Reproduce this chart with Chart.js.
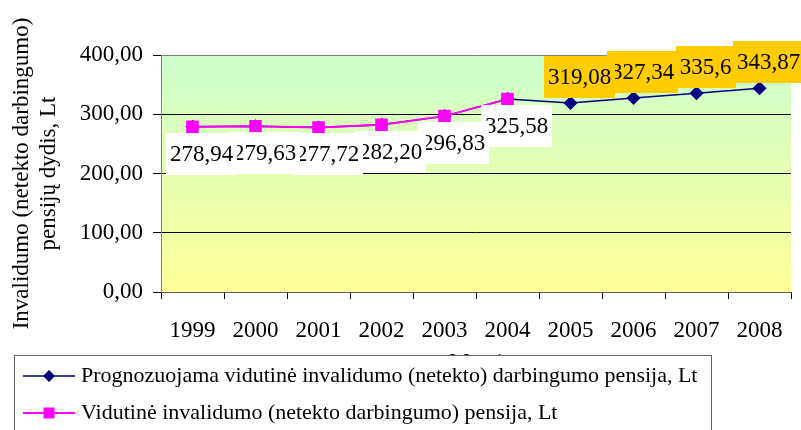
<!DOCTYPE html>
<html>
<head>
<meta charset="utf-8">
<script src="https://cdn.jsdelivr.net/npm/chart.js@4/dist/chart.umd.min.js"></script>
<style>
  html, body { margin: 0; padding: 0; background: #ffffff; }
  #wrap { width: 801px; height: 430px; position: relative; }
</style>
</head>
<body>
<div id="wrap"><canvas id="c" width="801" height="430"></canvas></div>
<script>
// ---- data ----
const years = ['1999', '2000', '2001', '2002', '2003', '2004', '2005', '2006', '2007', '2008'];
const forecastValues = [278.94, 279.63, 277.72, 282.20, 296.83, 325.58, 319.08, 327.34, 335.6, 343.87];
const actualValues = [278.94, 279.63, 277.72, 282.20, 296.83, 325.58, null, null, null, null];
const valueLabels = ['278,94', '279,63', '277,72', '282,20', '296,83', '325,58', '319,08', '327,34', '335,6', '343,87'];
const yTicks = [0, 100, 200, 300, 400];
const forecastName = 'Prognozuojama vidutinė invalidumo (netekto) darbingumo pensija, Lt';
const actualName = 'Vidutinė invalidumo (netekto darbingumo) pensija, Lt';
const yTitle = ['Invalidumo (netekto darbingumo)', 'pensijų dydis, Lt'];
const xTitle = 'Metai';

const FONT = '"Liberation Serif", "Times New Roman", serif';

const bgPlugin = {
  id: 'bg',
  beforeDraw(chart) {
    const {ctx, chartArea: a} = chart;
    const g = ctx.createLinearGradient(0, a.top, 0, a.bottom);
    g.addColorStop(0, '#ccffcc');
    g.addColorStop(1, '#ffff99');
    ctx.save();
    ctx.fillStyle = g;
    ctx.fillRect(a.left, a.top, a.right - a.left, a.bottom - a.top);
    ctx.restore();
  }
};

const labelPlugin = {
  id: 'valueBoxes',
  afterDatasetsDraw(chart) {
    const ctx = chart.ctx;
    const metaF = chart.getDatasetMeta(0);
    const metaA = chart.getDatasetMeta(1);
    ctx.save();
    ctx.font = '23px ' + FONT;
    ctx.textAlign = 'center';
    ctx.textBaseline = 'middle';
    for (let i = years.length - 1; i >= 0; i--) {
      const isActual = actualValues[i] !== null;
      const pt = isActual ? metaA.data[i] : metaF.data[i];
      const txt = valueLabels[i];
      const w = ctx.measureText(txt).width + 8;
      const h = 42;
      const cx = pt.x + 9;
      const cy = isActual ? pt.y + 27 : pt.y - 26;
      ctx.fillStyle = isActual ? '#ffffff' : '#ffcc00';
      ctx.fillRect(Math.round(cx - w / 2), Math.round(cy - h / 2), Math.round(w), h);
      ctx.fillStyle = '#000000';
      ctx.fillText(txt, cx, cy + 1);
    }
    ctx.restore();
  }
};

const legendPlugin = {
  id: 'boxLegend',
  afterDraw(chart) {
    const ctx = chart.ctx;
    ctx.save();
    ctx.fillStyle = '#ffffff';
    ctx.fillRect(14, 355, 697, 80);
    ctx.strokeStyle = '#666666';
    ctx.lineWidth = 1;
    ctx.strokeRect(14.5, 355.5, 697, 80);
    const rows = [376, 413];
    chart.data.datasets.forEach((ds, k) => {
      const y = rows[k];
      ctx.strokeStyle = ds.borderColor;
      ctx.lineWidth = ds.borderWidth;
      ctx.beginPath();
      ctx.moveTo(23, y);
      ctx.lineTo(75, y);
      ctx.stroke();
      ctx.fillStyle = ds.pointBackgroundColor;
      ctx.beginPath();
      if (ds.pointStyle === 'rectRot') {
        const r = ds.pointRadius;
        ctx.moveTo(49, y - r); ctx.lineTo(49 + r, y); ctx.lineTo(49, y + r); ctx.lineTo(49 - r, y);
        ctx.closePath();
      } else {
        const s = 5.5;
        ctx.rect(49 - s, y - s, 2 * s, 2 * s);
      }
      ctx.fill();
      ctx.fillStyle = '#000000';
      ctx.font = '22px ' + FONT;
      ctx.textAlign = 'left';
      ctx.textBaseline = 'middle';
      ctx.fillText(ds.label, 81, y);
    });
    ctx.restore();
  }
};

new Chart(document.getElementById('c'), {
  type: 'line',
  data: {
    labels: years,
    datasets: [
      {
        label: forecastName,
        data: forecastValues,
        borderColor: '#000080',
        backgroundColor: '#000080',
        pointBackgroundColor: '#000080',
        pointBorderColor: '#000080',
        pointStyle: 'rectRot',
        pointRadius: 6,
        borderWidth: 1.5,
        tension: 0,
        order: 2
      },
      {
        label: actualName,
        data: actualValues,
        borderColor: '#ff00ff',
        backgroundColor: '#ff00ff',
        pointBackgroundColor: '#ff00ff',
        pointBorderColor: '#ff00ff',
        pointStyle: 'rect',
        pointRadius: 7.5,
        borderWidth: 2,
        tension: 0,
        order: 1
      }
    ]
  },
  options: {
    responsive: false,
    animation: false,
    devicePixelRatio: 1,
    layout: { padding: { top: 55, right: 0, bottom: 0, left: 0 } },
    plugins: { legend: { display: false }, tooltip: { enabled: false } },
    scales: {
      x: {
        offset: true,
        grid: { drawOnChartArea: false, offset: true, tickLength: 7, tickColor: '#000000', lineWidth: 1 },
        border: { color: '#606060', width: 1 },
        ticks: { color: '#000000', font: { family: FONT, size: 23 }, padding: 18, maxRotation: 0, autoSkip: false },
        title: { display: true, text: xTitle, color: '#000000', font: { family: FONT, size: 23 }, padding: { top: 0, bottom: 53 } },
        afterFit(scale) { scale.height = 138; }
      },
      y: {
        min: 0,
        max: 400,
        afterBuildTicks(scale) { scale.ticks = yTicks.map(v => ({ value: v })); },
        grid: {
          color: (c) => (c.tick && c.tick.value === 400) ? '#808080' : '#000000',
          tickColor: '#000000',
          tickLength: 8,
          lineWidth: 1
        },
        border: { color: '#808080', width: 1 },
        ticks: {
          color: '#000000',
          font: { family: FONT, size: 23 },
          padding: 10,
          callback: (v) => Number(v).toFixed(2).replace('.', ',')
        },
        title: { display: true, text: yTitle, color: '#000000', font: { family: FONT, size: 23, lineHeight: 1.15 }, padding: { top: 9, bottom: 0 } },
        afterFit(scale) { scale.width = 161; }
      }
    }
  },
  plugins: [bgPlugin, labelPlugin, legendPlugin]
});
</script>
</body>
</html>
